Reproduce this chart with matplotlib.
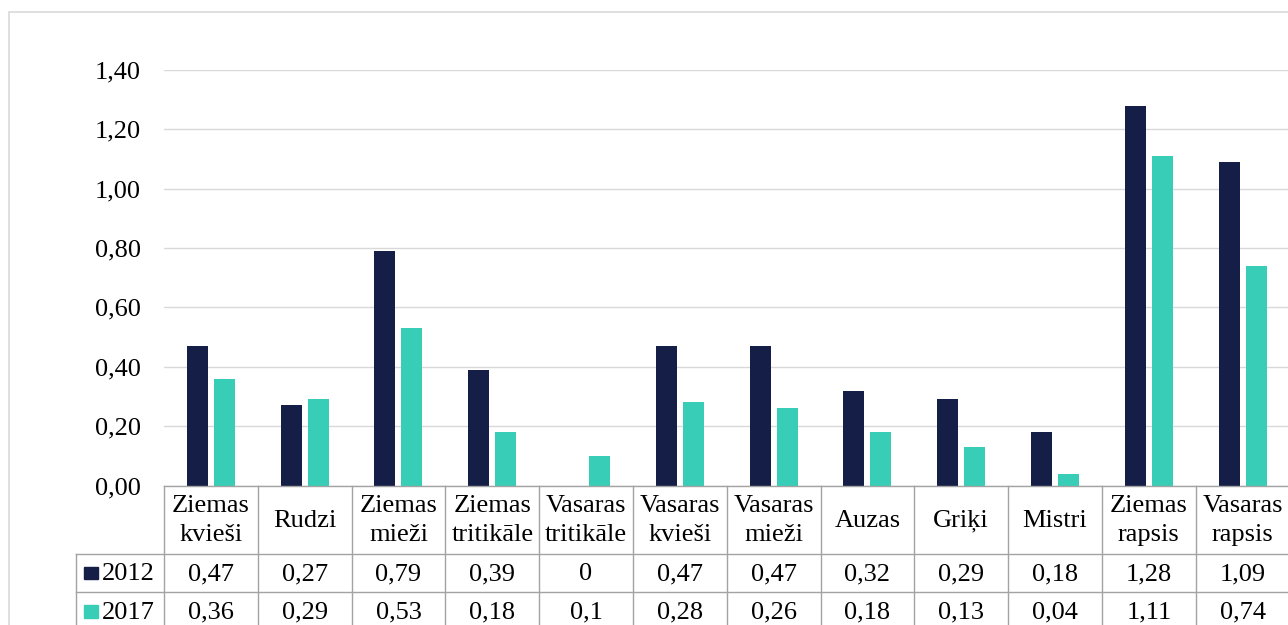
import matplotlib
matplotlib.use("Agg")
import matplotlib.pyplot as plt
from matplotlib.patches import Rectangle

categories = ["Ziemas\nkvieši", "Rudzi", "Ziemas\nmieži", "Ziemas\ntritikāle",
              "Vasaras\ntritikāle", "Vasaras\nkvieši", "Vasaras\nmieži", "Auzas",
              "Griķi", "Mistri", "Ziemas\nrapsis", "Vasaras\nrapsis"]
series_names = ["2012", "2017"]
values_2012 = [0.47, 0.27, 0.79, 0.39, 0, 0.47, 0.47, 0.32, 0.29, 0.18, 1.28, 1.09]
values_2017 = [0.36, 0.29, 0.53, 0.18, 0.1, 0.28, 0.26, 0.18, 0.13, 0.04, 1.11, 0.74]
yticks = [0.0, 0.2, 0.4, 0.6, 0.8, 1.0, 1.2, 1.4]

colors = ["#141E46", "#38CDB6"]
grid_color = "#D9D9D9"
table_color = "#A3A3A3"
FONT = ["Liberation Serif", "DejaVu Serif"]
FS = 19

plt.rcParams["font.family"] = FONT

W, H = 1288, 625
fig = plt.figure(figsize=(W / 100, H / 100), dpi=100)

def fx(px):
    return px / W

def fy(py):
    return 1 - py / H

# outer chart border
fig.patches.append(Rectangle((fx(9), fy(700)), fx(1400), (700 - 12) / H,
                             transform=fig.transFigure, fill=False,
                             edgecolor=grid_color, linewidth=1.2))

# main plot area
ax_l, ax_r, ax_top, ax_bot = 164, 1289.5, 70, 485.5
ax = fig.add_axes([fx(ax_l), fy(ax_bot), fx(ax_r - ax_l), (ax_bot - ax_top) / H])
n = len(categories)
x = list(range(n))
bw = 0.224
off = 0.144
ax.bar([i - off for i in x], values_2012, width=bw, color=colors[0], zorder=3)
ax.bar([i + off for i in x], values_2017, width=bw, color=colors[1], zorder=3)
ax.set_xlim(-0.5, n - 0.5)
ax.set_ylim(0, 1.4)
ax.set_yticks(yticks)
ax.set_yticklabels([f"{v:.2f}".replace(".", ",") for v in yticks], fontsize=FS)
ax.tick_params(axis="y", length=0, pad=16.5)
ax.tick_params(axis="x", bottom=False, labelbottom=False)
ax.grid(axis="y", color=grid_color, linewidth=1.0, zorder=0)
for s in ax.spines.values():
    s.set_visible(False)
ax.set_facecolor("none")

# data table
tab_l, tab_top, tab_bot = 75.7, 485.5, 631.5
unit = (ax_r - ax_l) / n
xl = -0.5 - (ax_l - tab_l) / unit
tax = fig.add_axes([fx(tab_l), fy(tab_bot), fx(ax_r - tab_l), (tab_bot - tab_top) / H])
tax.set_xlim(xl, n - 0.5)
tax.set_ylim(tab_bot - tab_top, 0)
tax.axis("off")
h0, h1, h2 = 68.5, 106.8, 145.5
lw = 1.0
# horizontal lines
tax.plot([-0.5, n - 0.5], [0, 0], color=table_color, lw=lw, clip_on=False)
for yy in (h0, h1):
    tax.plot([xl, n - 0.5], [yy, yy], color=table_color, lw=lw, clip_on=False)
# vertical lines
tax.plot([xl, xl], [h0, h2], color=table_color, lw=lw, clip_on=False)
for k in range(n + 1):
    tax.plot([k - 0.5, k - 0.5], [0, h2], color=table_color, lw=lw, clip_on=False)

for i, c in enumerate(categories):
    tax.text(i, h0 / 2 + 1, c, ha="center", va="center", fontsize=FS,
             linespacing=1.4)
rows = [values_2012, values_2017]
centers = [(h0 + h1) / 2, (h1 + h2) / 2]
for r, vals in enumerate(rows):
    for i, v in enumerate(vals):
        tax.text(i, centers[r] + 1, f"{v:g}".replace(".", ","), ha="center",
                 va="center", fontsize=FS)
    # legend key + series name
    kx = xl + (84.3 - tab_l) / unit
    tax.add_patch(Rectangle((kx, centers[r] - 6.5), 13.4 / unit, 12.5,
                            color=colors[r], clip_on=False))
    tax.text(xl + (101.5 - tab_l) / unit, centers[r] + 1, series_names[r],
             ha="left", va="center", fontsize=FS)

fig.savefig("out.png", dpi=100)
